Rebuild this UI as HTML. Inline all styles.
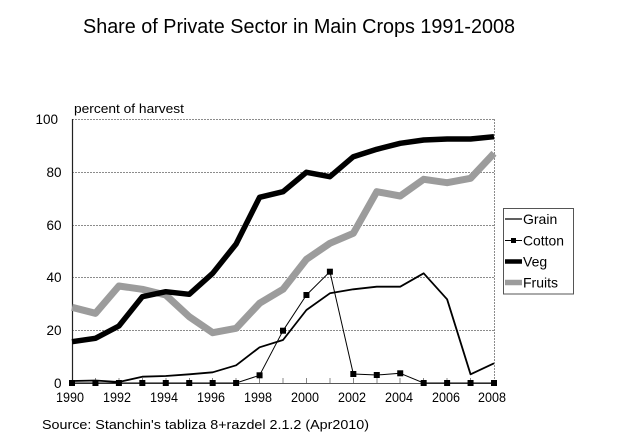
<!DOCTYPE html>
<html>
<head>
<meta charset="utf-8">
<style>
html,body{margin:0;padding:0;background:#fff;}
svg{display:block;}
text{font-family:"Liberation Sans",Arial,sans-serif;fill:#000;}
</style>
</head>
<body>
<svg width="617" height="448" viewBox="0 0 617 448" xmlns="http://www.w3.org/2000/svg">
<rect width="617" height="448" fill="#fff"/>
<!-- Title -->
<text x="299" y="33" font-size="20" text-anchor="middle" textLength="432" lengthAdjust="spacingAndGlyphs">Share of Private Sector in Main Crops 1991-2008</text>
<!-- axis title -->
<text x="74" y="113" font-size="13" textLength="110" lengthAdjust="spacingAndGlyphs">percent of harvest</text>

<!-- gridlines -->
<g stroke="#8c8c8c" stroke-width="1" stroke-dasharray="2,1" fill="none">
<line x1="72" y1="119.5" x2="494" y2="119.5"/>
<line x1="72" y1="172.5" x2="494" y2="172.5"/>
<line x1="72" y1="225.5" x2="494" y2="225.5"/>
<line x1="72" y1="277.5" x2="494" y2="277.5"/>
<line x1="72" y1="330.5" x2="494" y2="330.5"/>
<line x1="494.5" y1="119" x2="494.5" y2="383"/>
</g>
<!-- x ticks -->
<g stroke="#888" stroke-width="1">
<line x1="95.5" y1="378" x2="95.5" y2="383"/>
<line x1="119" y1="378" x2="119" y2="383"/>
<line x1="142.5" y1="378" x2="142.5" y2="383"/>
<line x1="166" y1="378" x2="166" y2="383"/>
<line x1="189.5" y1="378" x2="189.5" y2="383"/>
<line x1="212.5" y1="378" x2="212.5" y2="383"/>
<line x1="236" y1="378" x2="236" y2="383"/>
<line x1="259.5" y1="378" x2="259.5" y2="383"/>
<line x1="283" y1="378" x2="283" y2="383"/>
<line x1="306.5" y1="378" x2="306.5" y2="383"/>
<line x1="330" y1="378" x2="330" y2="383"/>
<line x1="353.5" y1="378" x2="353.5" y2="383"/>
<line x1="377" y1="378" x2="377" y2="383"/>
<line x1="400" y1="378" x2="400" y2="383"/>
<line x1="423.5" y1="378" x2="423.5" y2="383"/>
<line x1="447" y1="378" x2="447" y2="383"/>
<line x1="470.5" y1="378" x2="470.5" y2="383"/>
</g>
<!-- axes -->
<line x1="72" y1="383.5" x2="494" y2="383.5" stroke="#555" stroke-width="1"/>
<line x1="72.5" y1="119" x2="72.5" y2="384" stroke="#222" stroke-width="1.2"/>

<!-- y labels -->
<g font-size="13.5" text-anchor="end">
<text x="58" y="124">100</text>
<text x="61.5" y="177">80</text>
<text x="61.5" y="230">60</text>
<text x="61.5" y="282">40</text>
<text x="61.5" y="335">20</text>
<text x="61.5" y="388">0</text>
</g>
<!-- x labels -->
<g font-size="13.5" text-anchor="middle">
<text x="70" y="402" textLength="28" lengthAdjust="spacingAndGlyphs">1990</text>
<text x="117" y="402" textLength="28" lengthAdjust="spacingAndGlyphs">1992</text>
<text x="164" y="402" textLength="28" lengthAdjust="spacingAndGlyphs">1994</text>
<text x="211" y="402" textLength="28" lengthAdjust="spacingAndGlyphs">1996</text>
<text x="258" y="402" textLength="28" lengthAdjust="spacingAndGlyphs">1998</text>
<text x="305" y="402" textLength="28" lengthAdjust="spacingAndGlyphs">2000</text>
<text x="352" y="402" textLength="28" lengthAdjust="spacingAndGlyphs">2002</text>
<text x="399" y="402" textLength="28" lengthAdjust="spacingAndGlyphs">2004</text>
<text x="446" y="402" textLength="28" lengthAdjust="spacingAndGlyphs">2006</text>
<text x="492" y="402" textLength="28" lengthAdjust="spacingAndGlyphs">2008</text>
</g>

<!-- Fruits -->
<polyline fill="none" stroke="#9c9c9c" stroke-width="7" stroke-linejoin="round"
points="72,307.3 95.44,313.3 118.89,286 142.33,289.3 165.78,295 189.22,316.7 212.67,332.7 236.11,328.3 259.56,303.3 283,289.3 306.44,259.3 329.89,243.3 353.33,233.3 376.78,191.7 400.22,196 423.67,179.3 447.11,182.7 470.56,178.3 494,153.3"/>
<!-- Veg -->
<polyline fill="none" stroke="#000" stroke-width="5.5" stroke-linejoin="round"
points="72,341.7 95.44,338.3 118.89,326 142.33,296.7 165.78,291.7 189.22,294.3 212.67,273.3 236.11,244 259.56,197.3 283,191.7 306.44,172.3 329.89,176.7 353.33,156.7 376.78,149.3 400.22,143.3 423.67,140 447.11,139 470.56,139 494,136.7"/>
<!-- Grain -->
<polyline fill="none" stroke="#000" stroke-width="1.8" stroke-linejoin="round"
points="72,381 95.44,380.5 118.89,382 142.33,376.7 165.78,376 189.22,374.3 212.67,372.3 236.11,365.3 259.56,347.3 283,340 306.44,310 329.89,293.3 353.33,289.3 376.78,286.7 400.22,286.7 423.67,273.3 447.11,299.3 470.56,374.3 494,363.3"/>
<!-- Cotton -->
<polyline fill="none" stroke="#000" stroke-width="1" stroke-linejoin="round"
points="72,383 95.44,383 118.89,383 142.33,383 165.78,383 189.22,383 212.67,383 236.11,383 259.56,375.3 283,330.7 306.44,295 329.89,271.7 353.33,374 376.78,375 400.22,373.3 423.67,383 447.11,383 470.56,383 494,383"/>
<g fill="#000">
<rect x="69" y="380" width="6" height="6"/>
<rect x="92.44" y="380" width="6" height="6"/>
<rect x="115.89" y="380" width="6" height="6"/>
<rect x="139.33" y="380" width="6" height="6"/>
<rect x="162.78" y="380" width="6" height="6"/>
<rect x="186.22" y="380" width="6" height="6"/>
<rect x="209.67" y="380" width="6" height="6"/>
<rect x="233.11" y="380" width="6" height="6"/>
<rect x="256.56" y="372.3" width="6" height="6"/>
<rect x="280" y="327.7" width="6" height="6"/>
<rect x="303.44" y="292" width="6" height="6"/>
<rect x="326.89" y="268.7" width="6" height="6"/>
<rect x="350.33" y="371" width="6" height="6"/>
<rect x="373.78" y="372" width="6" height="6"/>
<rect x="397.22" y="370.3" width="6" height="6"/>
<rect x="420.67" y="380" width="6" height="6"/>
<rect x="444.11" y="380" width="6" height="6"/>
<rect x="467.56" y="380" width="6" height="6"/>
<rect x="491" y="380" width="6" height="6"/>
</g>

<!-- Legend -->
<rect x="503.5" y="208.5" width="70" height="85.5" fill="#fff" stroke="#555" stroke-width="1"/>
<line x1="505" y1="219" x2="522" y2="219" stroke="#000" stroke-width="1.3"/>
<line x1="505" y1="240.5" x2="522" y2="240.5" stroke="#000" stroke-width="1"/>
<rect x="511" y="238" width="5" height="5" fill="#000"/>
<line x1="505" y1="261.5" x2="522" y2="261.5" stroke="#000" stroke-width="4.5"/>
<line x1="505" y1="282.5" x2="522" y2="282.5" stroke="#9c9c9c" stroke-width="5.5"/>
<g font-size="14">
<text x="523" y="224">Grain</text>
<text x="523" y="245.5" textLength="41" lengthAdjust="spacingAndGlyphs">Cotton</text>
<text x="523" y="266.5">Veg</text>
<text x="523" y="287.5">Fruits</text>
</g>

<!-- Source -->
<text x="42" y="429" font-size="13" textLength="327" lengthAdjust="spacingAndGlyphs">Source: Stanchin's tabliza 8+razdel 2.1.2 (Apr2010)</text>
</svg>
</body>
</html>
